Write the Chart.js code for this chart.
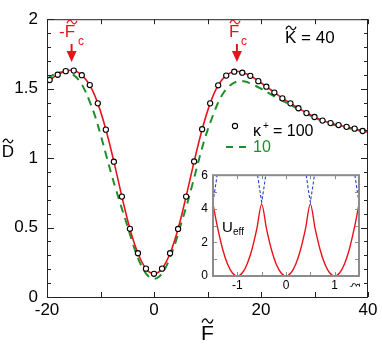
<!DOCTYPE html>
<html>
<head>
<meta charset="utf-8">
<script src="https://cdn.jsdelivr.net/npm/chart.js@4.4.1/dist/chart.umd.min.js"></script>
<style>
html, body { margin: 0; padding: 0; background: #fff; }
#main { position: absolute; left: 0; top: 0; width: 382px; height: 344px; }
#inset { position: absolute; left: 195px; top: 163px; width: 170px; height: 132px; }
</style>
</head>
<body>
<div id="main"><canvas id="mainChart"></canvas></div>
<div id="inset"><canvas id="insetChart"></canvas></div>
<script>
// main panel: D vs F
const circF = [-19.5, -18, -16.5, -15, -13.5, -12, -10.5, -9, -7.5, -6, -4.5, -3, -1.5, 0, 1.5, 3, 4.5, 6, 7.5, 9,
    10.5, 12, 13.5, 15, 16.5, 18, 19.5, 21, 22.5, 24, 25.5, 27, 28.5, 30, 31.5, 33, 34.5, 36, 37.5, 39]
const circD = [1.562, 1.600, 1.626, 1.630, 1.597, 1.526, 1.394, 1.205, 0.974, 0.723, 0.491, 0.315, 0.204, 0.167, 0.204, 0.315, 0.490, 0.723, 0.976, 1.208,
    1.394, 1.524, 1.594, 1.622, 1.615, 1.592, 1.554, 1.514, 1.472, 1.430, 1.394, 1.359, 1.324, 1.296, 1.270, 1.252, 1.238, 1.225, 1.212, 1.195]

const redF = [-20, -19.5, -18, -16.5, -15, -13.5, -12, -10.5, -9, -7.5, -6, -4.5, -3, -1.5, 0, 1.5, 3, 4.5, 6, 7.5, 9,
    10.5, 12, 13.5, 15, 16.5, 18, 19.5, 21, 22.5, 24, 25.5, 27, 28.5, 30, 31.5, 33, 34.5, 36, 37.5, 39, 40]
const redD = [1.553, 1.563, 1.601, 1.627, 1.630, 1.598, 1.526, 1.394, 1.206, 0.975, 0.723, 0.491, 0.315, 0.204, 0.167, 0.204, 0.315, 0.491, 0.723, 0.975, 1.206,
    1.394, 1.525, 1.595, 1.624, 1.617, 1.593, 1.555, 1.515, 1.473, 1.432, 1.395, 1.360, 1.326, 1.297, 1.271, 1.252, 1.238, 1.225, 1.212, 1.196, 1.188]

const greenF = [-20, -19, -18, -17, -16, -15, -14, -13, -12, -11, -10, -9, -8, -7, -6, -5, -4, -3, -2, -1, 0,
    1, 2, 3, 4, 5, 6, 7, 8, 9, 10, 11, 12, 13, 14, 15, 16, 17, 18, 19, 20, 22, 24, 26, 28, 30, 32, 34, 36, 38, 40]
const greenD = [1.570, 1.595, 1.612, 1.620, 1.615, 1.597, 1.558, 1.495, 1.405, 1.300, 1.170, 1.030, 0.890, 0.760, 0.635, 0.515, 0.390, 0.280, 0.200, 0.148, 0.131,
    0.148, 0.200, 0.285, 0.390, 0.520, 0.645, 0.785, 0.930, 1.075, 1.200, 1.305, 1.400, 1.470, 1.515, 1.543, 1.555, 1.552, 1.538, 1.520, 1.500,
    1.455, 1.413, 1.372, 1.330, 1.292, 1.260, 1.236, 1.218, 1.203, 1.180]

const xTicks = [-20, 0, 20, 40]
const yTicks = [0, 0.5, 1, 1.5, 2]

// inset: U_eff vs xi
const ueffXi = [-1.5, -1.4, -1.3, -1.2, -1.1, -1, -0.9, -0.8, -0.7, -0.6, -0.5, -0.4, -0.3, -0.2, -0.1, 0,
    0.1, 0.2, 0.3, 0.4, 0.5, 0.6, 0.7, 0.8, 0.9, 1, 1.1, 1.2, 1.3, 1.4, 1.5]
const ueffVals = [4.28, 2.80, 1.58, 0.70, 0.18, 0, 0.18, 0.70, 1.58, 2.80, 4.28, 2.80, 1.58, 0.70, 0.18, 0,
    0.18, 0.70, 1.58, 2.80, 4.28, 2.80, 1.58, 0.70, 0.18, 0, 0.18, 0.70, 1.58, 2.80, 4.28]
const blueXi = [-1.5, -1.46, -1.416, -1, -0.584, -0.54, -0.5, -0.46, -0.416, 0, 0.416, 0.46, 0.5, 0.54, 0.584, 1, 1.416, 1.46, 1.5]
const blueVals = [4.4, 5.13, 6.0, null, 6.0, 5.13, 4.4, 5.13, 6.0, null, 6.0, 5.13, 4.4, 5.13, 6.0, null, 6.0, 5.13, 4.4]

const inXTicks = [-1, 0, 1]
const inYTicks = [0, 2, 4, 6]

const RED = '#e8141c'
const GREEN = '#1f8f2a'
const FONT = 'Liberation Sans, Arial, Helvetica, sans-serif'

Chart.defaults.font.family = FONT
Chart.defaults.color = '#000'

const pts = (xs, ys) => xs.map((x, i) => ({ x: x, y: ys[i] }))

function tilde(ctx, cx, cy, w, h) {
    const x0 = cx - w / 2
    const x1 = cx + w / 2
    ctx.beginPath()
    ctx.moveTo(x0, cy + h / 2)
    ctx.bezierCurveTo(x0 + w * 0.15, cy - h, x0 + w * 0.35, cy - h, cx, cy)
    ctx.bezierCurveTo(cx + w * 0.15, cy + h, cx + w * 0.35, cy + h, x1, cy - h / 2)
    ctx.stroke()
}

function arrowDown(ctx, x, yTop, yBase, yTip, hw) {
    ctx.beginPath()
    ctx.moveTo(x, yTop)
    ctx.lineTo(x, yBase + 1)
    ctx.stroke()
    ctx.beginPath()
    ctx.moveTo(x - hw, yBase)
    ctx.lineTo(x + hw, yBase)
    ctx.lineTo(x, yTip)
    ctx.closePath()
    ctx.fill()
}

const mainDecor = {
    id: 'mainDecor',
    afterDatasetsDraw(chart) {
        const { ctx, chartArea: a, scales: { x, y } } = chart
        ctx.save()
        ctx.strokeStyle = '#222'
        ctx.lineWidth = 1
        ctx.strokeRect(a.left + 0.5, a.top + 0.5, a.right - a.left - 1, a.bottom - a.top)
        ctx.beginPath()
        for (let v = -20; v <= 40; v += 10) {
            const px = Math.round(x.getPixelForValue(v)) + 0.5
            ctx.moveTo(px, a.bottom); ctx.lineTo(px, a.bottom - 5)
            ctx.moveTo(px, a.top); ctx.lineTo(px, a.top + 5)
        }
        for (let k = 0; k <= 20; k++) {
            const py = Math.round(y.getPixelForValue(k / 10)) + 0.5
            const len = k % 5 === 0 ? 7 : 4
            ctx.moveTo(a.left, py); ctx.lineTo(a.left + len, py)
            ctx.moveTo(a.right, py); ctx.lineTo(a.right - len, py)
        }
        ctx.stroke()
        ctx.restore()
    },
    afterDraw(chart) {
        const { ctx, chartArea: a, scales: { x, y } } = chart
        ctx.save()
        ctx.textBaseline = 'alphabetic'
        ctx.textAlign = 'left'

        // axis titles
        ctx.fillStyle = '#000'
        ctx.strokeStyle = '#000'
        ctx.lineWidth = 1.3
        ctx.font = '17px ' + FONT
        ctx.textAlign = 'center'
        ctx.fillText('D', 8, 157)
        tilde(ctx, 8, 141, 10, 2.6)
        ctx.font = '21px ' + FONT
        const mid = (a.left + a.right) / 2
        ctx.fillText('F', mid, 340)
        tilde(ctx, mid, 321, 11, 3)

        // K = 40
        ctx.textAlign = 'left'
        ctx.font = '17px ' + FONT
        ctx.fillText('K = 40', 285, 43)
        tilde(ctx, 291, 28, 10, 2.6)

        // critical force markers
        ctx.fillStyle = RED
        ctx.strokeStyle = RED
        ctx.font = '17px ' + FONT
        ctx.fillText('-F', 59, 37)
        ctx.fillText('F', 229, 37)
        ctx.font = '12px ' + FONT
        ctx.fillText('c', 78, 45)
        ctx.fillText('c', 241, 45)
        ctx.lineWidth = 1.3
        tilde(ctx, 72, 22, 10, 2.6)
        tilde(ctx, 235, 22, 10, 2.6)
        ctx.lineWidth = 2
        arrowDown(ctx, x.getPixelForValue(-15.4), 44, 51, 62, 5)
        arrowDown(ctx, x.getPixelForValue(15.5), 44, 51, 62, 5)

        // legend
        ctx.fillStyle = '#fff'
        ctx.strokeStyle = '#000'
        ctx.lineWidth = 1.1
        ctx.beginPath()
        ctx.arc(235, 126, 2.6, 0, Math.PI * 2)
        ctx.fill()
        ctx.stroke()
        ctx.fillStyle = '#000'
        ctx.font = '16px ' + FONT
        ctx.fillText('\u03ba', 253, 136)
        ctx.font = '10px ' + FONT
        ctx.fillText('+', 263, 129)
        ctx.font = '16px ' + FONT
        ctx.fillText('= 100', 273, 136)
        ctx.strokeStyle = GREEN
        ctx.lineWidth = 2
        ctx.setLineDash([7, 6])
        ctx.beginPath()
        ctx.moveTo(226, 147)
        ctx.lineTo(246, 147)
        ctx.stroke()
        ctx.setLineDash([])
        ctx.fillStyle = GREEN
        ctx.fillText('10', 253, 152)
        ctx.restore()
    }
}

const mainChart = new Chart(document.getElementById('mainChart'), {
    type: 'line',
    data: {
        datasets: [{
            label: 'kappa 100',
            data: pts(circF, circD),
            showLine: false,
            pointRadius: 2.6,
            pointBorderWidth: 1.1,
            pointBackgroundColor: '#fff',
            pointBorderColor: '#000'
        }, {
            label: 'theory',
            data: pts(redF, redD),
            borderColor: RED,
            borderWidth: 1.6,
            pointRadius: 0,
            tension: 0.4
        }, {
            label: 'kappa 10',
            data: pts(greenF, greenD),
            borderColor: GREEN,
            borderWidth: 2,
            borderDash: [8, 6],
            pointRadius: 0,
            tension: 0.4
        }]
    },
    options: {
        responsive: true,
        maintainAspectRatio: false,
        animation: false,
        layout: { padding: { top: 13, right: 14, left: 0, bottom: 0 } },
        plugins: { legend: { display: false }, tooltip: { enabled: false } },
        scales: {
            x: {
                type: 'linear', min: -20, max: 40,
                afterBuildTicks: s => { s.ticks = xTicks.map(v => ({ value: v })) },
                afterFit: s => { s.height = 47 },
                ticks: { callback: v => String(v), font: { size: 17 }, color: '#000', padding: 3, maxRotation: 0, autoSkip: false },
                grid: { display: false, drawTicks: false },
                border: { display: false }
            },
            y: {
                type: 'linear', min: 0, max: 2,
                afterBuildTicks: s => { s.ticks = yTicks.map(v => ({ value: v })) },
                afterFit: s => { s.width = 47 },
                ticks: { callback: v => String(v), font: { size: 17 }, color: '#000', padding: 9, autoSkip: false },
                grid: { display: false, drawTicks: false },
                border: { display: false }
            }
        }
    },
    plugins: [mainDecor]
})

const insetDecor = {
    id: 'insetDecor',
    afterDatasetsDraw(chart) {
        const { ctx, chartArea: a, scales: { x, y } } = chart
        ctx.save()
        ctx.strokeStyle = '#8c8c8c'
        ctx.lineWidth = 1
        ctx.beginPath()
        for (let k = -3; k <= 3; k++) {
            const px = Math.round(x.getPixelForValue(k / 2)) + 0.5
            ctx.moveTo(px, a.bottom); ctx.lineTo(px, a.bottom - 4)
            ctx.moveTo(px, a.top); ctx.lineTo(px, a.top + 4)
        }
        for (let v = 0; v <= 6; v++) {
            const py = Math.round(y.getPixelForValue(v)) + 0.5
            ctx.moveTo(a.left, py); ctx.lineTo(a.left + 4, py)
            ctx.moveTo(a.right, py); ctx.lineTo(a.right - 4, py)
        }
        ctx.stroke()
        ctx.lineWidth = 2
        ctx.strokeRect(a.left, a.top, a.right - a.left, a.bottom - a.top)
        ctx.restore()
    },
    afterDraw(chart) {
        const { ctx, chartArea: a } = chart
        ctx.save()
        ctx.fillStyle = '#000'
        ctx.textAlign = 'left'
        ctx.font = '15px ' + FONT
        ctx.fillText('U', a.left + 9, 232 - 163)
        ctx.font = '10px ' + FONT
        ctx.fillText('eff', a.left + 20, 235 - 163)
        ctx.translate(a.right - 4, 285 - 163)
        ctx.rotate(Math.PI / 2)
        ctx.textAlign = 'center'
        ctx.textBaseline = 'middle'
        ctx.font = '10px ' + FONT
        ctx.fillText('\u03be', 0, 0)
        ctx.restore()
    }
}

const insetChart = new Chart(document.getElementById('insetChart'), {
    type: 'line',
    data: {
        datasets: [{
            label: 'Ueff',
            data: pts(ueffXi, ueffVals),
            borderColor: RED,
            borderWidth: 1.4,
            pointRadius: 0,
            cubicInterpolationMode: 'monotone'
        }, {
            label: 'branches',
            data: pts(blueXi, blueVals),
            borderColor: '#2340d0',
            borderWidth: 1.1,
            borderDash: [3, 2],
            pointRadius: 0,
            spanGaps: false
        }]
    },
    options: {
        responsive: true,
        maintainAspectRatio: false,
        animation: false,
        layout: { padding: { top: 10, right: 6, left: 0, bottom: 0 } },
        plugins: { legend: { display: false }, tooltip: { enabled: false } },
        scales: {
            x: {
                type: 'linear', min: -1.5, max: 1.5,
                afterBuildTicks: s => { s.ticks = inXTicks.map(v => ({ value: v })) },
                afterFit: s => { s.height = 19 },
                ticks: { callback: v => String(v), font: { size: 12 }, color: '#000', padding: 2, maxRotation: 0, autoSkip: false },
                grid: { display: false, drawTicks: false },
                border: { display: false }
            },
            y: {
                type: 'linear', min: 0, max: 6,
                afterBuildTicks: s => { s.ticks = inYTicks.map(v => ({ value: v })) },
                afterFit: s => { s.width = 18 },
                ticks: { callback: v => String(v), font: { size: 12 }, color: '#000', padding: 5, autoSkip: false },
                grid: { display: false, drawTicks: false },
                border: { display: false }
            }
        }
    },
    plugins: [insetDecor]
})
</script>
</body>
</html>
